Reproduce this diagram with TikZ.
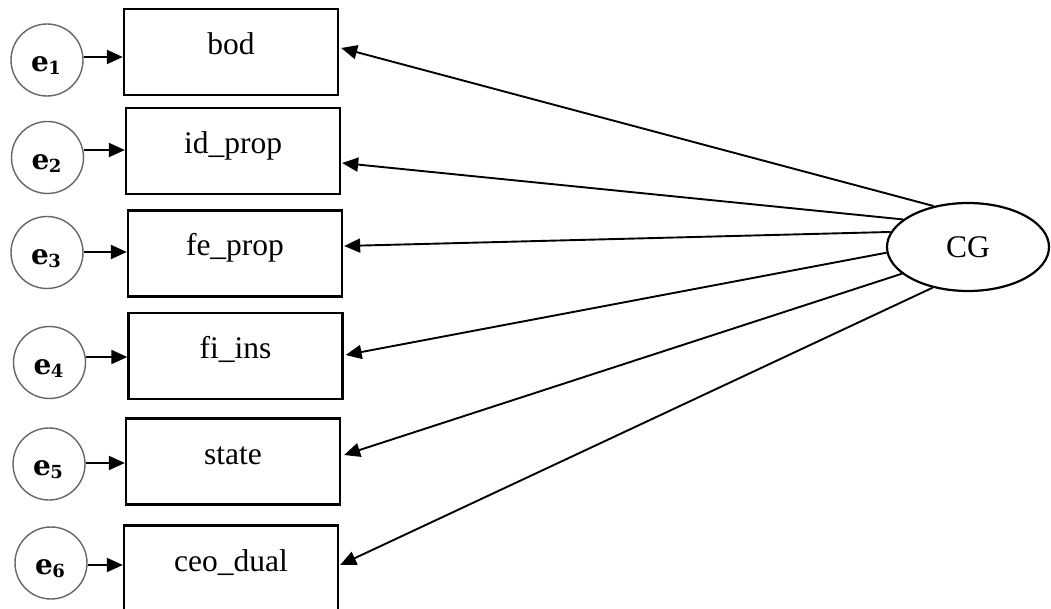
\documentclass[tikz,border=0pt]{standalone}
\usepackage{fontspec}
\setmainfont{Liberation Serif}
\newfontfamily\errfont{DejaVu Serif}
\usetikzlibrary{arrows.meta,shapes.geometric}
\definecolor{errgray}{HTML}{666666}
% error term label: bold e with a lowered index
\newcommand\errlab[1]{{\errfont\bfseries\fontsize{28}{28}\selectfont e\kern-0.5pt\raisebox{-3pt}{\fontsize{18}{18}\selectfont #1}}}
\begin{document}
\begin{tikzpicture}[x=1pt,y=-1pt,
  varbox/.style={draw,line width=2.3pt,minimum width=214pt,minimum height=86pt,
    inner sep=0pt,text height=25pt,text depth=20pt,font=\fontsize{31.5}{36}\selectfont},
  errcirc/.style={circle,draw=errgray,line width=1.4pt,minimum size=72pt,inner sep=0pt},
  errtext/.style={xshift=-1pt,yshift=-6pt},
  latent/.style={ellipse,draw,line width=2.2pt,minimum width=162pt,minimum height=88pt,
    inner sep=0pt,font=\fontsize{31.5}{36}\selectfont},
  link/.style={-{Triangle[length=16pt,width=14pt]},line width=1.9pt}]
\clip (0,0) rectangle (1051,609);
\fill[white] (0,0) rectangle (1051,609);

% observed indicators
\node[varbox] (bod)  at (231,52)    {bod};
\node[varbox] (idp)  at (233,151)   {id\_prop};
\node[varbox] (fep)  at (235,253.5) {fe\_prop};
\node[varbox] (fii)  at (235.5,356) {fi\_ins};
\node[varbox] (sta)  at (233,461.5) {state};
\node[varbox] (ceo)  at (231,568.5) {ceo\_dual};

% error terms
\node[errcirc,label={[errtext]center:\errlab{1}}] (e1) at (47,60)    {};
\node[errcirc,label={[errtext]center:\errlab{2}}] (e2) at (47.5,157.5) {};
\node[errcirc,label={[errtext]center:\errlab{3}}] (e3) at (47,252.5) {};
\node[errcirc,label={[errtext]center:\errlab{4}}] (e4) at (49.5,362.5) {};
\node[errcirc,label={[errtext]center:\errlab{5}}] (e5) at (49,464)   {};
\node[errcirc,label={[errtext]center:\errlab{6}}] (e6) at (51,563)   {};

% latent factor
\node[latent] (cg) at (968,247) {CG};

% error paths
\coordinate (s1) at ([yshift=3pt]e1.east);
\coordinate (s2) at ([yshift=7.5pt]e2.east);
\coordinate (s3) at ([yshift=0.5pt]e3.east);
\coordinate (s4) at ([yshift=5.5pt]e4.east);
\coordinate (s5) at ([yshift=1pt]e5.east);
\coordinate (s6) at ([yshift=-2pt]e6.east);
\draw[link] (s1) -- (s1 -| bod.west);
\draw[link] (s2) -- (s2 -| idp.west);
\draw[link] (s3) -- (s3 -| fep.west);
\draw[link] (s4) -- (s4 -| fii.west);
\draw[link] (s5) -- (s5 -| sta.west);
\draw[link] (s6) -- (s6 -| ceo.west);

% factor loadings
\draw[link] (cg.130) -- ([xshift=2pt,yshift=4pt]bod.east);
\draw[link] (cg.157) -- ([xshift=1pt,yshift=-12pt]idp.east);
\draw[link] (cg.169) -- ([xshift=1pt,yshift=7.5pt]fep.east);
\draw[link] (cg.184) -- ([xshift=2pt,yshift=1pt]fii.east);
\draw[link] (cg.202) -- ([xshift=3pt,yshift=6.5pt]sta.east);
\draw[link] (cg.229) -- ([xshift=1pt,yshift=3.5pt]ceo.east);
\end{tikzpicture}
\end{document}
